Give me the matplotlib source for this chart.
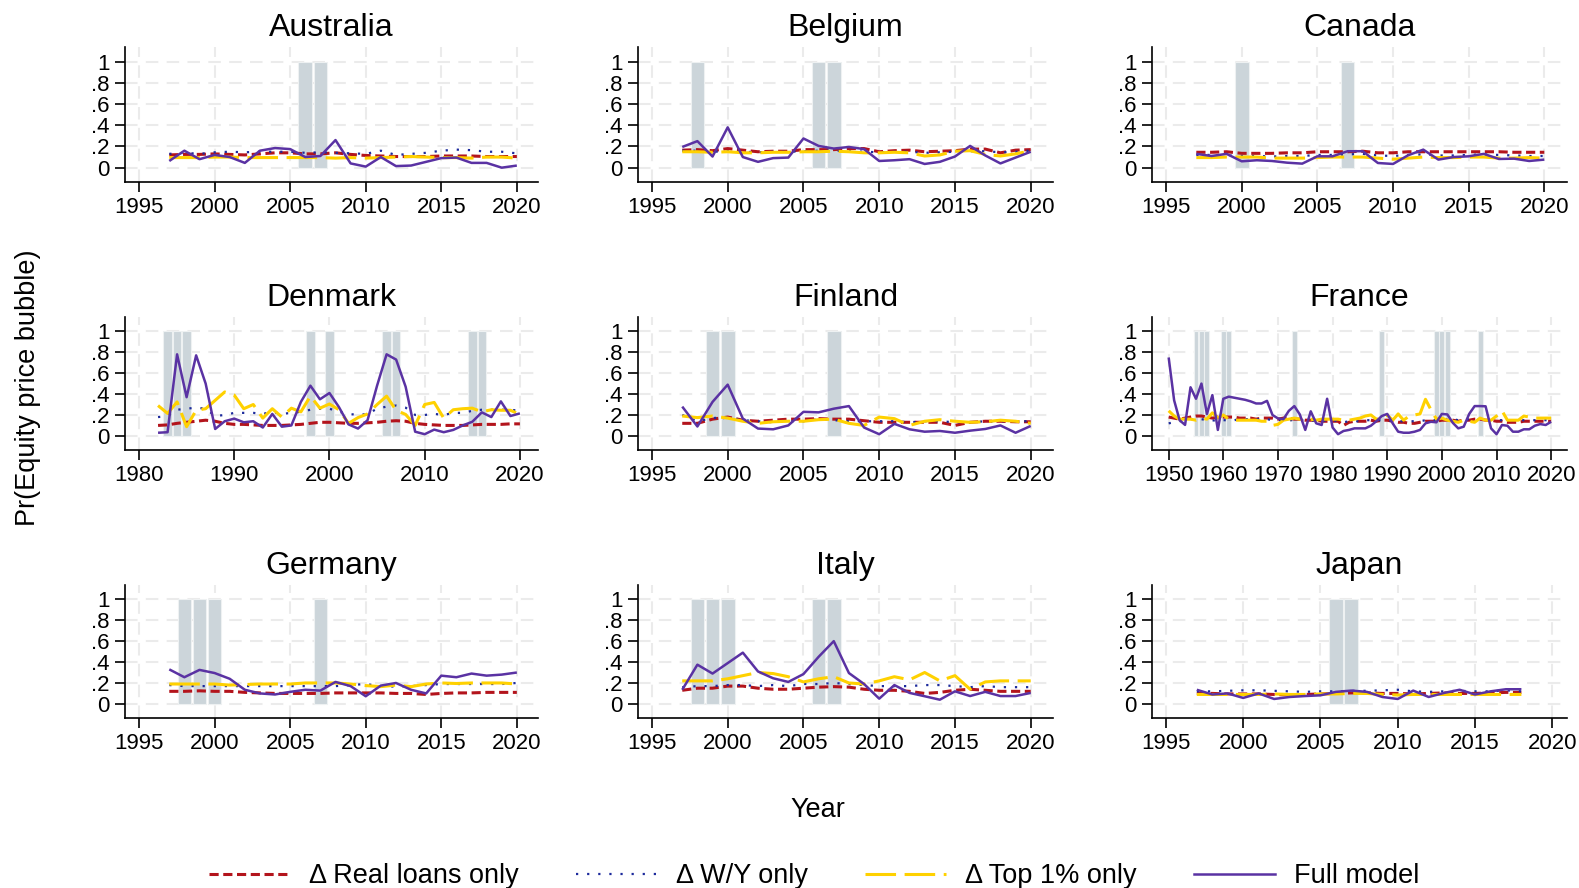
import matplotlib
matplotlib.use("Agg")
import matplotlib.pyplot as plt
from matplotlib.lines import Line2D
import numpy as np

plt.rcParams['font.family'] = ['Liberation Sans', 'DejaVu Sans']

# ---- data ----
countries = ["Australia", "Belgium", "Canada", "Denmark", "Finland", "France",
             "Germany", "Italy", "Japan"]

first_year = {"Australia": 1997, "Belgium": 1997, "Canada": 1997, "Denmark": 1982,
              "Finland": 1997, "France": 1950, "Germany": 1997, "Italy": 1997,
              "Japan": 1997}

bubble_years = {
    "Australia": [2006, 2007],
    "Belgium": [1998, 2006, 2007],
    "Canada": [2000, 2007],
    "Denmark": [1983, 1984, 1985, 1998, 2000, 2006, 2007, 2015, 2016],
    "Finland": [1999, 2000, 2007],
    "France": [1955, 1956, 1957, 1960, 1961, 1973, 1989, 1999, 2000, 2001, 2007],
    "Germany": [1998, 1999, 2000, 2007],
    "Italy": [1998, 1999, 2000, 2006, 2007],
    "Japan": [2006, 2007],
}

real_loans = {
    "Australia": [.12, .125, .125, .13, .125, .12, .13, .14, .14, .13, .13, .14,
                  .125, .115, .11, .105, .105, .105, .11, .11, .11, .105, .105, .105],
    "Belgium": [.165, .17, .16, .18, .165, .15, .155, .155, .17, .17, .17, .18,
                .18, .15, .16, .165, .15, .155, .16, .175, .175, .14, .165, .17],
    "Canada": [.145, .145, .15, .135, .135, .135, .14, .14, .15, .15, .15, .155,
               .14, .14, .15, .15, .15, .15, .15, .15, .15, .145, .145, .145],
    "Denmark": [.10, .105, .12, .13, .14, .15, .14, .12,
                .11, .11, .105, .10, .10, .10, .105, .11, .12, .13,
                .13, .125, .12, .12, .125, .13, .14, .145, .14, .12,
                .11, .105, .10, .10, .10, .105, .11, .11, .11, .115, .115],
    "Finland": [.12, .12, .16, .18, .15, .14, .15, .16, .16, .165, .16, .16,
                .145, .13, .13, .13, .13, .13, .10, .13, .14, .14, .135, .135],
    "France": [.18, .17, .16, .17, .18, .19, .19, .18, .17, .18,
               .18, .18, .18, .17, .17, .17, .16, .17, .17, .17,
               .16, .17, .17, .16, .16, .15, .15, .15, .14, .14,
               .14, .14, .10, .13, .14, .14, .14, .15, .14, .15,
               .15, .14, .13, .13, .12, .12, .13, .14, .14, .14,
               .15, .15, .15, .14, .15, .15, .16, .16, .15, .15,
               .14, .14, .13, .13, .13, .14, .14, .14, .14, .14, .14],
    "Germany": [.12, .12, .125, .12, .12, .11, .105, .10, .10, .10, .10, .105,
                .105, .105, .105, .10, .10, .09, .10, .105, .105, .11, .11, .11],
    "Italy": [.13, .15, .15, .17, .17, .15, .14, .14, .15, .16, .165, .16,
              .14, .13, .13, .12, .10, .11, .13, .14, .13, .12, .12, .12],
    "Japan": [.10, .10, .095, .095, .095, .09, .085, .09, .095, .10, .105,
              .105, .10, .10, .095, .10, .105, .10, .10, .105, .11, .11],
}

wealth_income = {
    "Australia": [.13, .14, .13, .145, .15, .145, .15, .15, .15, .14, .145, .14,
                  .135, .13, .16, .12, .13, .14, .16, .17, .165, .15, .15, .135],
    "Belgium": [.16, .16, .15, .155, .15, .145, .15, .15, .155, .16, .16, .155,
                .15, .145, .15, .15, .14, .145, .15, .155, .155, .145, .15, .16],
    "Canada": [.12, .12, .115, .11, .11, .105, .11, .11, .12, .12, .125, .13,
               .115, .11, .12, .125, .115, .115, .12, .125, .12, .115, .11, .11],
    "Denmark": [.18, .19, .25, .26, .27, .26, .19, .20,
                .22, .22, .22, .21, .23, .21, .22, .23, .25, .26,
                .26, .23, .21, .20, .21, .26, .28, .29, .27, .20,
                .20, .21, .20, .22, .22, .24, .25, .25, .25, .25, .24],
    "Finland": [.20, .14, .17, .18, .15, .14, .13, .14, .14, .16, .15, .14,
                .14, .14, .14, .13, .14, .14, .13, .13, .14, .14, .14, .14],
    "France": [.12, .13, .14, .15, .16, .16, .16, .15, .15, .14,
               .15, .15, .15, .16, .16, .16, .16, .16, .16, .15,
               .15, .15, .15, .15, .15, .15, .15, .14, .14, .15,
               .15, .14, .13, .14, .14, .14, .15, .15, .15, .15,
               .15, .14, .14, .14, .14, .14, .14, .15, .15, .15,
               .16, .16, .16, .15, .15, .16, .16, .16, .16, .15,
               .15, .15, .15, .15, .15, .15, .15, .15, .15, .15, .15],
    "Germany": [.18, .17, .17, .17, .17, .17, .17, .17, .17, .17, .17, .17,
                .18, .19, .17, .165, .17, .18, .19, .19, .19, .19, .19, .20],
    "Italy": [.16, .17, .17, .18, .18, .17, .18, .17, .19, .19, .20, .19,
              .18, .17, .17, .17, .18, .18, .17, .16, .17, .16, .16, .16],
    "Japan": [.12, .12, .125, .13, .13, .125, .12, .115, .12, .12, .125,
              .125, .13, .135, .12, .115, .12, .125, .12, .12, .13, .12],
}

top_one = {
    "Australia": [.095, .095, .095, .10, .10, .095, .095, .095, .095, .095, .095, .09,
                  .095, .09, .095, .10, .105, .10, .095, .095, .09, .10, .10, .09],
    "Belgium": [.15, .15, .145, .15, .14, .14, .145, .145, .15, .15, .155, .15,
                .14, .14, .145, .14, .11, .12, .155, .16, .125, .11, .13, .16],
    "Canada": [.095, .095, .10, .10, .10, .09, .09, .09, .095, .10, .10, .10,
               .09, .08, .09, .10, .095, .095, .10, .10, .09, .09, .095, .09],
    "Denmark": [.29, .215, .325, .088, .245, .26, .34, .42,
                .39, .26, .30, .17, .26, .18, .265, .23, .38, .265,
                .305, .25, .12, .175, .21, .30, .38, .245, .205, .10,
                .30, .32, .17, .25, .26, .265, .23, .25, .245, .245, .205],
    "Finland": [.19, .175, .19, .17, .14, .12, .135, .14, .14, .155, .16, .12,
                .10, .18, .165, .10, .14, .155, .14, .13, .135, .15, .14, .12],
    "France": [.24, .19, .16, .16, .16, .15, .17, .16, .22, .17,
               .20, .16, .15, .15, .15, .15, .15, .14, .14, .10,
               .11, .15, .16, .17, .16, .15, .16, .15, .16, .16,
               .16, .16, .15, .15, .16, .17, .19, .20, .16, .17,
               .20, .15, .21, .15, .19, .20, .21, .35, .25, .16,
               .17, .15, .14, .13, .15, .14, .13, .17, .15, .15,
               .19, .24, .15, .15, .15, .19, .18, .17, .17, .17, .17],
    "Germany": [.19, .19, .19, .19, .18, .185, .19, .19, .19, .20, .20, .20,
                .19, .175, .165, .18, .165, .19, .20, .195, .20, .20, .20, .19],
    "Italy": [.22, .22, .22, .24, .27, .30, .29, .26, .21, .24, .26, .20,
              .19, .22, .26, .23, .30, .22, .27, .14, .21, .22, .22, .22],
    "Japan": [.09, .09, .09, .09, .09, .095, .09, .09, .095, .095, .10,
              .10, .09, .085, .09, .09, .09, .09, .09, .09, .09, .09],
}

full_model = {
    "Australia": [.063, .16, .08, .12, .10, .045, .16, .185, .175, .10, .11, .26,
                  .04, .01, .10, .015, .02, .055, .09, .095, .045, .045, .0, .02],
    "Belgium": [.195, .25, .105, .38, .10, .055, .09, .095, .275, .205, .18, .195,
                .175, .063, .07, .08, .035, .055, .105, .205, .115, .04, .095, .15],
    "Canada": [.13, .11, .13, .06, .07, .063, .047, .038, .107, .107, .155, .155,
               .044, .035, .117, .17, .076, .10, .107, .13, .082, .085, .063, .076],
    "Denmark": [.03, .035, .78, .37, .77, .50, .066, .14,
                .165, .13, .14, .08, .21, .088, .10, .325, .48, .35,
                .41, .275, .11, .07, .15, .48, .78, .73, .47, .04,
                .016, .06, .035, .057, .10, .135, .225, .18, .33, .19, .215],
    "Finland": [.28, .09, .325, .49, .165, .07, .063, .10, .23, .225, .26, .285,
                .08, .016, .115, .063, .04, .047, .03, .05, .066, .10, .03, .095],
    "France": [.75, .34, .15, .105, .465, .355, .50, .21, .39, .057,
               .355, .375, .365, .355, .345, .33, .31, .31, .335, .20,
               .167, .16, .24, .285, .205, .057, .235, .12, .104, .355,
               .08, .016, .047, .057, .072, .072, .072, .097, .14, .19,
               .21, .12, .04, .03, .03, .04, .057, .12, .135, .13,
               .21, .205, .125, .072, .088, .21, .285, .285, .283, .072,
               .016, .104, .097, .04, .04, .063, .063, .097, .113, .104, .135],
    "Germany": [.33, .255, .325, .295, .24, .135, .10, .09, .115, .135, .127, .21,
                .17, .073, .175, .20, .135, .10, .27, .255, .29, .27, .28, .30],
    "Italy": [.135, .375, .29, .39, .49, .31, .245, .21, .285, .45, .60, .295,
              .19, .05, .18, .105, .073, .04, .12, .075, .115, .075, .075, .105],
    "Japan": [.135, .09, .10, .057, .10, .047, .066, .075, .082, .115, .127,
              .115, .066, .047, .127, .066, .105, .135, .09, .12, .14, .14],
}

x_ticks = {
    "Denmark": [1980, 1990, 2000, 2010, 2020],
    "France": [1950, 1960, 1970, 1980, 1990, 2000, 2010, 2020],
}
default_ticks = [1995, 2000, 2005, 2010, 2015, 2020]
y_ticks = [0, .2, .4, .6, .8, 1]
y_ticklabels = ["0", ".2", ".4", ".6", ".8", "1"]

series_labels = ["\u0394 Real loans only", "\u0394 W/Y only", "\u0394 Top 1% only", "Full model"]

# ---- style ----
W, H = 1579, 888
col_px = [(125, 538), (638, 1053), (1152, 1567)]
row_px = [(47, 182), (317, 450), (585, 718)]
x_limits = {
    "Australia": (1994.07, 2021.4), "Belgium": (1994.08, 2021.47),
    "Canada": (1994.07, 2021.5), "Denmark": (1978.53, 2021.9),
    "Finland": (1994.08, 2021.47), "France": (1946.95, 2022.9),
    "Germany": (1994.07, 2021.4), "Italy": (1994.08, 2021.47),
    "Japan": (1994.1, 2020.95),
}

RED = "#b3141c"
BLUE = "#1c2a9c"
YELLOW = "#ffd100"
PURPLE = "#5a32a3"
BAR = "#ccd5da"

styles = [
    dict(color=RED, lw=2.2, dashes=(3, 1.5)),
    dict(color=BLUE, lw=1.6, dashes=(1, 4)),
    dict(color=YELLOW, lw=2.2, dashes=(10, 2.8)),
    dict(color=PURPLE, lw=1.8),
]


def draw_panel(ax, country):
    n = len(full_model[country])
    years = np.arange(first_year[country], first_year[country] + n)

    ax.bar(bubble_years[country], [1] * len(bubble_years[country]), width=0.9,
           bottom=0, color=BAR, edgecolor="#eef1f2", linewidth=0.8, zorder=1)

    series = [real_loans, wealth_income, top_one, full_model]
    for s, st in zip(series, styles):
        ax.plot(years, s[country], solid_capstyle="butt", dash_capstyle="butt",
                zorder=3, **st)

    ax.set_xlim(*x_limits[country])
    ax.set_ylim(-0.135, 1.137)
    ax.set_xticks(x_ticks.get(country, default_ticks))
    ax.set_yticks(y_ticks)
    ax.set_yticklabels(y_ticklabels)
    ax.tick_params(direction="out", length=7, width=1.2, labelsize=16, pad=4,
                   colors="black")
    ax.grid(True, color="#ebebeb", lw=1.5, linestyle=(0, (6, 4)))
    ax.set_axisbelow(True)
    for side in ["top", "right"]:
        ax.spines[side].set_visible(False)
    for side in ["left", "bottom"]:
        ax.spines[side].set_linewidth(1.2)
    ax.set_title(country, fontsize=23, pad=8)


fig = plt.figure(figsize=(W / 100, H / 100), dpi=100)

for i, country in enumerate(countries):
    r, c = divmod(i, 3)
    x0, x1 = col_px[c]
    y0, y1 = row_px[r]
    ax = fig.add_axes([x0 / W, 1 - y1 / H, (x1 - x0) / W, (y1 - y0) / H])
    draw_panel(ax, country)

fig.text(28 / W, 1 - 388 / H, "Pr(Equity price bubble)", rotation=90,
         fontsize=19.5, ha="center", va="center")
fig.text(818 / W, 1 - 810 / H, "Year", fontsize=19.5, ha="center", va="center")

handles = [Line2D([0], [0], **st) for st in styles]
fig.legend(handles, series_labels, loc="center", bbox_to_anchor=(814 / W, 1 - 876 / H),
           ncol=4, frameon=False, fontsize=19.5, handlelength=3.0,
           handletextpad=0.7, columnspacing=2.1)

fig.savefig("out.png", dpi=100)
